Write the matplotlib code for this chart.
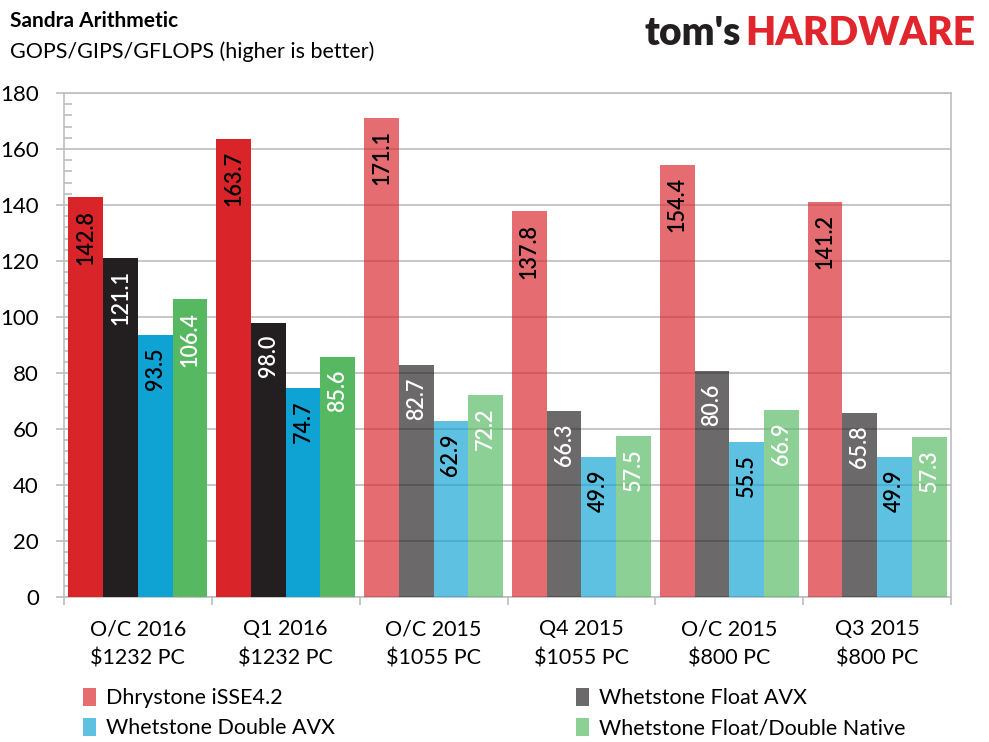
import numpy as np
import matplotlib
matplotlib.use("Agg")
import matplotlib.pyplot as plt
from matplotlib.ticker import MultipleLocator

plt.rcParams['font.family'] = ['Lato', 'DejaVu Sans']

groups = ["O/C 2016\n$1232 PC", "Q1 2016\n$1232 PC", "O/C 2015\n$1055 PC",
          "Q4 2015\n$1055 PC", "O/C 2015\n$800 PC", "Q3 2015\n$800 PC"]
series = ["Dhrystone iSSE4.2", "Whetstone Float AVX",
          "Whetstone Double AVX", "Whetstone Float/Double Native"]
dhrystone = [142.8, 163.7, 171.1, 137.8, 154.4, 141.2]
float_avx = [121.1, 98.0, 82.7, 66.3, 80.6, 65.8]
double_avx = [93.5, 74.7, 62.9, 49.9, 55.5, 49.9]
native = [106.4, 85.6, 72.2, 57.5, 66.9, 57.3]
values = [dhrystone, float_avx, double_avx, native]

colors = ['#D9242A', '#231F20', '#0FA3D4', '#56B962']
text_colors = ['black', 'white', 'black', 'white']
light_alpha = 0.67
grid_c = '#BEBEBE'

fig = plt.figure(figsize=(9.89, 7.42), dpi=100)
ax = fig.add_axes([0.0647, 0.1954, 0.8969, 0.6793])

x = np.arange(len(groups))
bw = 0.235
handles = []
for i, (name, vals) in enumerate(zip(series, values)):
    pos = x + (i - 1.5) * bw
    for j, v in enumerate(vals):
        a = 1.0 if j < 2 else light_alpha
        ax.bar(pos[j], v, bw, color=colors[i], alpha=a, zorder=3, linewidth=0)
        ax.annotate(f"{v:.1f}", (pos[j], v), xytext=(0, -9), textcoords='offset points',
                    rotation=90, ha='center', va='top', fontsize=15.5,
                    fontweight='semibold', color=text_colors[i], zorder=5)
    # legend proxies in the lighter shade
    handles.append(ax.bar([0], [0], 0, color=colors[i], alpha=light_alpha, label=name))

ax.set_xlim(-0.5, len(groups) - 0.5)
ax.set_ylim(0, 180)
ax.yaxis.set_major_locator(MultipleLocator(20))
ax.yaxis.set_minor_locator(MultipleLocator(4))
ax.grid(axis='y', color=grid_c, linewidth=1.2)
ax.set_axisbelow(False)
for line in ax.get_ygridlines():
    line.set_zorder(3.5)

ax.set_xticks(x)
ax.set_xticklabels(groups, fontsize=15.5, linespacing=1.6)
ax.set_xticks(np.arange(len(groups) + 1) - 0.5, minor=True)
ax.tick_params(axis='x', which='major', length=0, pad=16)
ax.tick_params(axis='x', which='minor', length=6, color=grid_c, width=1.2)
ax.tick_params(axis='y', which='major', length=6, color=grid_c, width=1.2,
               labelsize=16, pad=12)
ax.tick_params(axis='y', which='minor', direction='in', length=6,
               color=grid_c, width=1.2)

for s in ['left', 'bottom', 'right', 'top']:
    ax.spines[s].set_color(grid_c)
    ax.spines[s].set_linewidth(1.2)

# row order in the reference: Dhrystone, Float AVX / Double AVX, Native
order = [0, 2, 1, 3]
ax.legend([handles[k] for k in order], [series[k] for k in order],
          loc='upper left', bbox_to_anchor=(0.012, -0.163), ncol=2,
          frameon=False, fontsize=15.5, handlelength=0.6, handleheight=0.9,
          handletextpad=0.45, columnspacing=11.2, labelspacing=0.45,
          borderaxespad=0)

fig.text(0.010, 0.972, "Sandra Arithmetic", fontsize=15, fontweight='bold',
         va='center', ha='left')
fig.text(0.010, 0.930, "GOPS/GIPS/GFLOPS (higher is better)", fontsize=15.5,
         va='center', ha='left')

hw = fig.text(0.986, 0.955, "HARDWARE", fontsize=28, fontweight='heavy',
              color='#E0262C', ha='right', va='center')
fig.canvas.draw()
bb = hw.get_window_extent()
fig.text((bb.x0 - 4) / fig.bbox.width, 0.955, "tom's", fontsize=28,
         fontweight='heavy', color='#231F20', ha='right', va='center')

fig.savefig("out.png", dpi=100)
